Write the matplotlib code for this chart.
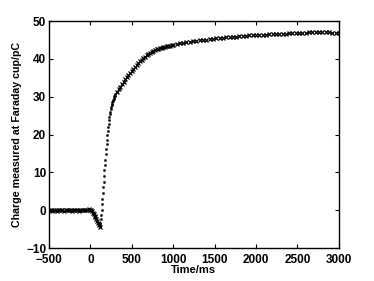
import matplotlib
matplotlib.use("Agg")
import matplotlib.pyplot as plt

t_pre = [-500, -480, -460, -440, -420, -400, -380, -360, -340, -320, -300, -280, -260,
         -240, -220, -200, -180, -160, -140, -120, -100, -80, -60, -40, -20, 0]
q_pre = [0.0, 0.1, -0.1, 0.1, 0.0, -0.1, 0.0, 0.1, 0.0, -0.1, 0.1, 0.0, 0.0,
         0.1, -0.1, 0.0, 0.1, 0.0, -0.1, 0.0, 0.1, 0.0, 0.1, 0.2, 0.3, 0.2]

t_dip = [10, 20, 30, 40, 50, 60, 70, 80, 90, 100, 110]
q_dip = [0.0, -0.3, -0.6, -1.0, -1.4, -1.8, -2.3, -2.8, -3.3, -3.9, -4.3]

t_rise = [115, 120, 125, 130, 135, 140, 145, 150, 155, 160, 165, 170, 175, 180, 185,
          190, 195, 200, 205, 210, 215, 220, 225, 230, 235, 240, 245, 250, 255, 260,
          265, 270, 275, 280, 285, 290, 295, 300]
q_rise = [-4.0, -3.3, -2.4, -1.2, 0.2, 1.6, 3.1, 4.6, 6.1, 7.6, 9.1, 10.6, 12.0, 13.4, 14.8,
          16.1, 17.4, 18.6, 19.8, 20.9, 21.9, 22.9, 23.8, 24.6, 25.4, 26.1, 26.7, 27.3, 27.8, 28.2,
          28.6, 28.9, 29.2, 29.5, 29.8, 30.1, 30.3, 30.6]

t_mid = [320, 340, 360, 380, 400, 420, 440, 460, 480, 500, 520, 540, 560, 580, 600,
         620, 640, 660, 680, 700, 720, 740, 760, 780, 800, 820, 840, 860, 880, 900,
         920, 940, 960, 980, 1000]
q_mid = [31.3, 32.0, 32.7, 33.4, 34.0, 34.6, 35.2, 35.8, 36.3, 36.9, 37.4, 37.9, 38.4, 38.9, 39.4,
         39.8, 40.2, 40.6, 41.0, 41.3, 41.6, 41.9, 42.1, 42.3, 42.5, 42.7, 42.8, 43.0, 43.1, 43.2,
         43.3, 43.4, 43.5, 43.6, 43.7]

t_late = [1040, 1080, 1120, 1160, 1200, 1240, 1280, 1320, 1360, 1400, 1440, 1480, 1520,
          1560, 1600, 1640, 1680, 1720, 1760, 1800, 1840, 1880, 1920, 1960, 2000, 2040,
          2080, 2120, 2160, 2200, 2240, 2280, 2320, 2360, 2400, 2440, 2480, 2520, 2560,
          2600, 2640, 2680, 2720, 2760, 2800, 2840, 2880, 2920, 2960, 3000]
q_late = [43.9, 44.1, 44.3, 44.4, 44.6, 44.7, 44.8, 44.9, 45.0, 45.1, 45.2, 45.3, 45.4,
          45.5, 45.6, 45.7, 45.7, 45.8, 45.9, 46.0, 46.0, 46.1, 46.2, 46.2, 46.3, 46.3,
          46.4, 46.4, 46.5, 46.5, 46.6, 46.6, 46.7, 46.7, 46.8, 46.8, 46.8, 46.9, 46.9,
          46.9, 47.0, 47.0, 47.0, 47.0, 47.0, 47.0, 47.0, 46.9, 46.9, 46.9]

x_ticks = [-500, 0, 500, 1000, 1500, 2000, 2500, 3000]
y_ticks = [-10, 0, 10, 20, 30, 40, 50]

plt.rcParams['font.family'] = ['Liberation Sans', 'DejaVu Sans']
plt.rcParams['font.weight'] = 'bold'

fig = plt.figure(figsize=(3.74, 2.81), dpi=100)
ax = fig.add_axes([0.131, 0.117, 0.775, 0.808])

# dense (plateau) parts drawn with crosses, steep rise with small dots
ax.plot(t_pre + t_dip, q_pre + q_dip, linestyle='none', marker='x', markersize=3.2,
        color='black', markeredgewidth=0.9)
ax.plot(t_rise, q_rise, linestyle='none', marker='o', markersize=1.6,
        color='black', markeredgewidth=0.3)
ax.plot(t_mid + t_late, q_mid + q_late, linestyle='none', marker='x', markersize=3.2,
        color='black', markeredgewidth=0.9)

ax.set_xlim(-500, 3000)
ax.set_ylim(-10, 50)
ax.set_xticks(x_ticks)
ax.set_yticks(y_ticks)
ax.set_xticklabels([str(v).replace('-', '\u2212') for v in x_ticks], fontsize=8.5, fontweight='bold')
ax.set_yticklabels([str(v).replace('-', '\u2212') for v in y_ticks], fontsize=8.5, fontweight='bold')
ax.tick_params(direction='in', length=3, width=0.8, top=True, right=True)
ax.tick_params(axis='x', pad=4.5)
ax.tick_params(axis='y', pad=2)
for s in ax.spines.values():
    s.set_linewidth(1.0)
ax.set_xlabel('Time/ms', fontsize=8, fontweight='bold', labelpad=-1)
ax.set_ylabel('Charge measured at Faraday cup/pC', fontsize=7.7, fontweight='bold', labelpad=3)

fig.savefig('out.png', dpi=100)
